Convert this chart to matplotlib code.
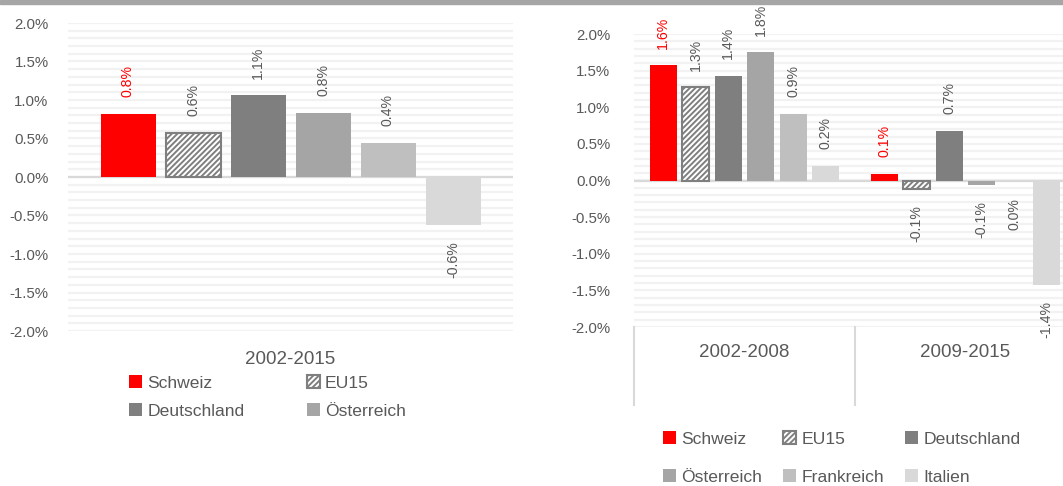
import numpy as np
import matplotlib
matplotlib.use("Agg")
import matplotlib.pyplot as plt
from matplotlib.patches import Patch, Rectangle

# data
countries = ["Schweiz", "EU15", "Deutschland", "Österreich", "Frankreich", "Italien"]
colors = ["#ff0000", "#ffffff", "#7f7f7f", "#a5a5a5", "#bfbfbf", "#d9d9d9"]
left_periods = ["2002-2015"]
left_values = [[0.82], [0.57], [1.06], [0.83], [0.44], [-0.62]]
right_periods = ["2002-2008", "2009-2015"]
right_values = [[1.57, 0.09], [1.27, -0.11], [1.43, 0.68], [1.75, -0.06], [0.91, -0.01], [0.20, -1.42]]
yticks = [-2.0, -1.5, -1.0, -0.5, 0.0, 0.5, 1.0, 1.5, 2.0]

txt = "#595959"
plt.rcParams["font.family"] = ["Liberation Sans", "DejaVu Sans"]
plt.rcParams["hatch.linewidth"] = 1.4

W, H = 1063, 486
fig = plt.figure(figsize=(W / 100, H / 100), dpi=100)
fig.patches.append(Rectangle((0, 1 - 4 / H), 1, 4 / H, transform=fig.transFigure,
                             color="#a6a6a6", zorder=0))


def px_axes(x0, x1, ytop, ybot):
    return fig.add_axes([x0 / W, 1 - ybot / H, (x1 - x0) / W, (ybot - ytop) / H])


def fmt(v):
    s = f"{v:.1f}%"
    return "0.0%" if s == "-0.0%" else s


def draw(ax, periods, values, pitch, width):
    n = len(countries)
    x = np.arange(len(periods))
    for g in np.arange(-2.0, 2.01, 0.1):
        ax.axhline(g, color="#f2f2f2", lw=1.6, zorder=0)
    ax.axhline(0, color="#d9d9d9", lw=1.6, zorder=1)
    for i, (name, c, vals) in enumerate(zip(countries, colors, values)):
        xs = x + (i - (n - 1) / 2) * pitch
        if name == "EU15":
            bars = ax.bar(xs, vals, width, facecolor="white", edgecolor="#7f7f7f",
                          hatch="//////", lw=1.5, zorder=2)
        else:
            bars = ax.bar(xs, vals, width, color=c, zorder=2)
        for b, v in zip(bars, vals):
            ax.annotate(fmt(v), (b.get_x() + b.get_width() / 2, v),
                        xytext=(0, 12 if v >= 0 else -12), textcoords="offset points",
                        rotation=90, ha="center", va="bottom" if v >= 0 else "top",
                        color="#ff0000" if name == "Schweiz" else txt,
                        fontsize=10.2, annotation_clip=False)
    ax.set_ylim(-2, 2)
    ax.set_yticks(yticks)
    ax.set_yticklabels([f"{t:.1f}%" for t in yticks])
    ax.tick_params(axis="y", length=0, pad=14, labelsize=10.8, labelcolor=txt)
    ax.set_xticks([])
    for s in ax.spines.values():
        s.set_visible(False)
    ax.set_facecolor("none")


# left chart
axl = px_axes(68, 513, 23, 331)
draw(axl, left_periods, left_values, 65 / 445, 55 / 445)
axl.set_xlim(-0.5, 0.5)
axl.text(0, -2.37, left_periods[0], ha="center", va="center", fontsize=13.5, color=txt)

# right chart (runs past the right edge)
axr = px_axes(634, 1076, 34, 327)
draw(axr, right_periods, right_values, 32.5 / 221, 27 / 221)
axr.set_xlim(-0.5, 1.5)
axr.tick_params(axis="y", pad=17)
for i, p in enumerate(right_periods):
    axr.text(i, -2.35, p, ha="center", va="center", fontsize=13.5, color=txt)
for xv in [-0.5, 0.5, 1.5]:
    axr.plot([xv, xv], [0, -78 / 293], color="#d9d9d9", lw=1.5,
             transform=axr.get_xaxis_transform(), clip_on=False)


def handle(name, c):
    if name == "EU15":
        return Patch(facecolor="white", edgecolor="#7f7f7f", hatch="//////", lw=1.5)
    return Patch(facecolor=c, edgecolor="none")


hs = [handle(n, c) for n, c in zip(countries, colors)]
leg_kw = dict(frameon=False, fontsize=12.6, labelcolor=txt, handlelength=0.75,
              handleheight=0.75, handletextpad=0.3, borderaxespad=0.0)
# legends read row by row, matplotlib fills column by column
o4 = [0, 2, 1, 3]
fig.legend([hs[i] for i in o4], [countries[i] for i in o4], ncol=2, loc="upper left",
           bbox_to_anchor=(122 / W, 1 - 368 / H), columnspacing=3.55,
           labelspacing=0.72, **leg_kw)
o6 = [0, 3, 1, 4, 2, 5]
fig.legend([hs[i] for i in o6], [countries[i] for i in o6], ncol=3, loc="upper left",
           bbox_to_anchor=(656 / W, 1 - 424 / H), columnspacing=1.2,
           labelspacing=1.3, **leg_kw)

fig.savefig("out.png", dpi=100)
